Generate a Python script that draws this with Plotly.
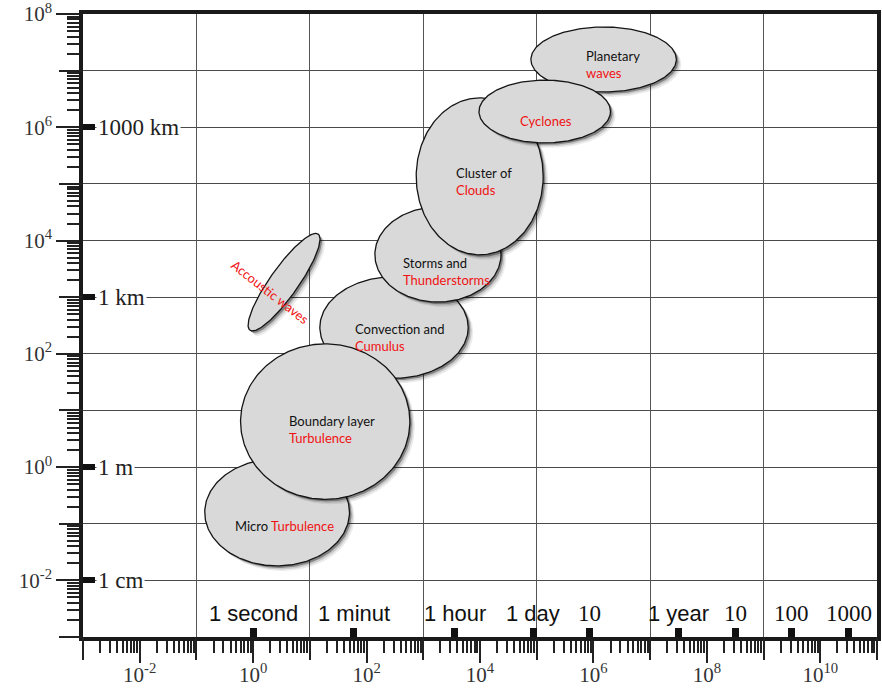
import numpy as np
import plotly.graph_objects as go

# ---- scales of atmospheric motion: time span (s) and length span (m) ----
phenomena = ["Micro Turbulence", "Convection and Cumulus", "Boundary layer Turbulence",
             "Storms and Thunderstorms", "Cluster of Clouds", "Planetary waves", "Cyclones"]
time_min_s = [0.14, 15, 0.6, 140, 750, 7.9e4, 9.6e3]
time_max_s = [50, 6200, 580, 23500, 1.3e5, 2.9e7, 2.0e6]
length_min_m = [0.018, 37, 0.27, 820, 5600, 4.2e6, 5.3e5]
length_max_m = [1.4, 2300, 150, 39000, 3.3e6, 5.9e7, 6.8e6]

# acoustic waves: a slanted band between two corners
acoustic_time_s = [0.88, 14]
acoustic_length_m = [260, 13000]

# rich-text labels (black / red parts)
label_black = ["Micro ", "Convection and<br>", "Boundary layer<br>", "Storms and<br>",
               "Cluster of<br>", "Planetary<br>", ""]
label_red = ["Turbulence", "Cumulus", "Turbulence", "Thunderstorms", "Clouds", "waves", "Cyclones"]
# label anchors (log10 s, log10 m), left edge of text block
label_log_x = [-0.355, 1.761, 0.597, 2.607, 3.542, 5.834, 4.671]
label_log_y = [-1.040, 2.280, 0.655, 3.445, 5.034, 7.100, 6.111]

# time landmarks along the bottom
time_marks_s = [1, 60, 3600, 86400, 864000, 3.156e7, 3.156e8, 3.156e9, 3.156e10]
time_marks_text = ["1 second", "1 minut", "1 hour", "1 day", "10", "1 year", "10", "100", "1000"]
time_marks_serif = [False, False, False, False, True, False, True, True, True]

# length landmarks on the left
length_marks_m = [1e6, 1e3, 1, 1e-2]
length_marks_text = ["1000 km", "1 km", "1 m", "1 cm"]

x_even = [k for k in range(-3, 12) if k % 2 == 0]
x_odd = [k for k in range(-3, 12) if k % 2 != 0]
y_even = [k for k in range(-3, 9) if k % 2 == 0]
y_odd = [k for k in range(-3, 9) if k % 2 != 0]

FILL = "#d9d9d9"
EDGE = "#151515"
RED = "#f01212"
PX_X = 56.71  # pixels per decade (x)
PX_Y = 56.64  # pixels per decade (y)


def ellipse(cx, cy, a, b, ang=0.0, n=241):
    t = np.linspace(0, 2 * np.pi, n)
    x = cx + a * np.cos(t) * np.cos(ang) - b * np.sin(t) * np.sin(ang)
    y = cy + a * np.cos(t) * np.sin(ang) + b * np.sin(t) * np.cos(ang)
    return x, y


def add_blob(fig, lx, ly):
    # soft drop shadow, then the filled outline
    for off, alpha in [(5.0, 0.08), (3.5, 0.14), (2.0, 0.35)]:
        fig.add_trace(go.Scatter(
            x=10 ** (lx + off / PX_X), y=10 ** (ly - off / PX_Y), mode="lines",
            fill="toself", fillcolor=f"rgba(0,0,0,{alpha})", line=dict(width=0),
            hoverinfo="skip", showlegend=False))
    fig.add_trace(go.Scatter(
        x=10 ** lx, y=10 ** ly, mode="lines", fill="toself", fillcolor=FILL,
        line=dict(color=EDGE, width=1.3), hoverinfo="skip", showlegend=False))


fig = go.Figure()

# acoustic waves band
ax0, ax1 = np.log10(acoustic_time_s)
ay0, ay1 = np.log10(acoustic_length_m)
a_len = 0.5 * np.hypot(ax1 - ax0, ay1 - ay0)
a_ang = np.arctan2(ay1 - ay0, ax1 - ax0)
ex, ey = ellipse((ax0 + ax1) / 2, (ay0 + ay1) / 2, a_len, 0.25, a_ang)
add_blob(fig, ex, ey)

for i in range(len(phenomena)):
    x0, x1 = np.log10(time_min_s[i]), np.log10(time_max_s[i])
    y0, y1 = np.log10(length_min_m[i]), np.log10(length_max_m[i])
    ex, ey = ellipse((x0 + x1) / 2, (y0 + y1) / 2, (x1 - x0) / 2, (y1 - y0) / 2)
    add_blob(fig, ex, ey)

# helper traces so the overlay axes are drawn
fig.add_trace(go.Scatter(x=[], y=[], xaxis="x2", yaxis="y", showlegend=False))
fig.add_trace(go.Scatter(x=[], y=[], xaxis="x3", yaxis="y", showlegend=False))
fig.add_trace(go.Scatter(x=[], y=[], xaxis="x", yaxis="y2", showlegend=False))
fig.add_trace(go.Scatter(x=[], y=[], xaxis="x", yaxis="y3", showlegend=False))

annotations = []
for i in range(len(phenomena)):
    txt = label_black[i] + f"<span style='color:{RED}'>{label_red[i]}</span>"
    annotations.append(dict(
        x=label_log_x[i], y=label_log_y[i], xref="x", yref="y", text=txt,
        showarrow=False, xanchor="left", yanchor="middle", align="left",
        font=dict(family="Lato", size=13, color="#111")))

annotations.append(dict(
    x=0.30, y=3.09, xref="x", yref="y", text="Accoustic waves", showarrow=False,
    textangle=38, font=dict(family="Lato", size=13, color=RED)))

for t, txt, serif in zip(time_marks_s, time_marks_text, time_marks_serif):
    annotations.append(dict(
        x=np.log10(t), y=0, xref="x", yref="paper", yshift=24, yanchor="middle",
        text=txt, showarrow=False,
        font=dict(family="Liberation Serif" if serif else "Liberation Sans",
                  size=23 if serif else 22, color="#111")))

for v, txt in zip(length_marks_m, length_marks_text):
    annotations.append(dict(
        x=0, y=np.log10(v), xref="paper", yref="y", xshift=13, xanchor="left",
        yanchor="middle", text=txt, showarrow=False, bgcolor="white", borderpad=1,
        font=dict(family="Liberation Serif", size=23, color="#222")))

tick_font = dict(family="Liberation Serif", size=21, color="#333")
minor_x = [m * 10 ** k for k in range(-3, 11) for m in range(2, 10)]
minor_y = [m * 10 ** k for k in range(-3, 8) for m in range(2, 10)]

common = dict(type="log", zeroline=False)
fig.update_layout(
    width=882, height=688,
    margin=dict(l=83, r=5, t=14, b=51),
    paper_bgcolor="white", plot_bgcolor="white",
    showlegend=False, annotations=annotations,
    # labelled decades
    xaxis=dict(
        **common, range=[-3, 11], tickmode="array",
        tickvals=[10.0 ** k for k in x_even],
        ticktext=[f"10<sup>{k}</sup>" for k in x_even],
        ticks="outside", ticklen=22, tickwidth=1.6, tickcolor="#222",
        ticklabelstandoff=-6, ticklabeloverflow="allow",
        minor=dict(tickmode="array", tickvals=minor_x, ticks="outside",
                   ticklen=12, tickwidth=2.2, tickcolor="#222", showgrid=False),
        showgrid=False, showline=True, linewidth=3.5,
        linecolor="#1a1a1a", mirror=True, tickfont=tick_font, automargin=False),
    # unlabelled decades, carrying the vertical grid
    xaxis2=dict(
        **common, range=[-3, 11], overlaying="x", anchor="y", side="bottom",
        tickmode="array", tickvals=[10.0 ** k for k in x_odd],
        showticklabels=False, ticks="outside", ticklen=22, tickwidth=1.6,
        tickcolor="#222", showgrid=True, gridcolor="#555", gridwidth=1,
        showline=False),
    # time landmarks
    xaxis3=dict(
        **common, range=[-3, 11], overlaying="x", anchor="y", side="bottom",
        tickmode="array", tickvals=time_marks_s, showticklabels=False,
        ticks="inside", ticklen=9, tickwidth=6.5, tickcolor="#111",
        showgrid=False, showline=False),
    yaxis=dict(
        **common, range=[-3, 8], tickmode="array",
        tickvals=[10.0 ** k for k in y_even],
        ticktext=[f"10<sup>{k}</sup>" for k in y_even],
        ticks="outside", ticklen=23, tickwidth=1.6, tickcolor="#222",
        ticklabeloverflow="allow",
        minor=dict(tickmode="array", tickvals=minor_y, ticks="outside",
                   ticklen=12, tickwidth=2.2, tickcolor="#222", showgrid=False),
        showgrid=True, gridcolor="#4a4a4a", gridwidth=1,
        showline=True, linewidth=3.5, linecolor="#1a1a1a", mirror=True,
        tickfont=tick_font, automargin=False),
    # length landmarks
    yaxis2=dict(
        **common, range=[-3, 8], overlaying="y", anchor="x", side="left",
        tickmode="array", tickvals=length_marks_m, showticklabels=False,
        ticks="inside", ticklen=12, tickwidth=6, tickcolor="#111",
        showgrid=False, showline=False),
    # unlabelled decades, carrying the rest of the horizontal grid
    yaxis3=dict(
        **common, range=[-3, 8], overlaying="y", anchor="x", side="left",
        tickmode="array", tickvals=[10.0 ** k for k in y_odd],
        showticklabels=False, ticks="outside", ticklen=23, tickwidth=1.6,
        tickcolor="#222", showgrid=True, gridcolor="#4a4a4a", gridwidth=1,
        showline=False),
)

fig.write_html("out.html")
